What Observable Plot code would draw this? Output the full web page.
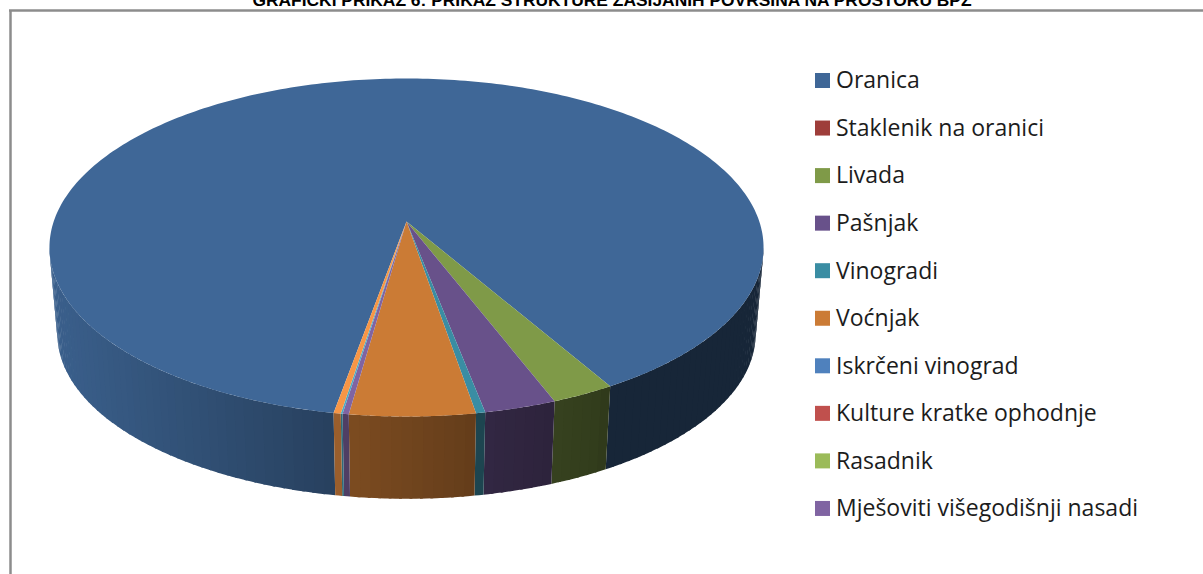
<!DOCTYPE html>
<html lang="hr">
<head>
<meta charset="utf-8">
<title>Grafički prikaz</title>
<script src="https://cdn.jsdelivr.net/npm/d3@7"></script>
<script src="https://cdn.jsdelivr.net/npm/@observablehq/plot@0.6"></script>
<style>
  html, body { margin: 0; padding: 0; background: #fff; overflow: hidden; }
  svg { display: block; }
</style>
</head>
<body>
<div id="chart"></div>
<script>
// Data. The last two slices have no legend row in the reference.
const categories = ["Oranica", "Staklenik na oranici", "Livada", "Pašnjak", "Vinogradi", "Voćnjak",
  "Iskrčeni vinograd", "Kulture kratke ophodnje", "Rasadnik", "Mješoviti višegodišnji nasadi", "Ostalo 1", "Ostalo 2"];
const shares = [88.86, 0, 2.49, 2.82, 0.36, 4.89, 0, 0, 0, 0.24, 0.07, 0.28];
const colors = ["#3f6797", "#9e3d3a", "#7f9a48", "#68518a", "#3a8da3", "#cb7b35",
  "#4f81bd", "#c0504d", "#9bbb59", "#8064a2", "#4bacc6", "#f79646"];
const legendCount = 10;
const titleText = "GRAFIČKI PRIKAZ 6: PRIKAZ STRUKTURE ZASIJANIH POVRŠINA NA PROSTORU BPŽ";

// Projection of the tilted disc
const W = 1203, H = 574, firstAngle = 100.1, k = 0.1538;
const topFace = {cx: 406, cy: 221, R: 352.8, b: 165};
const baseFace = {cx: 406, cy: 308, R: 345, b: 161};
const rad = Math.PI / 180;
const project = (f, deg) => {
  const s = Math.sin(deg * rad), c = Math.cos(deg * rad), q = 1 - k * s;
  return {x: f.cx + f.R * c / q, y: f.cy + f.b * s / q};
};
const total = d3.sum(shares);
let run = firstAngle;
const slices = categories.map((name, i) => {
  const a0 = run, a1 = run + shares[i] / total * 360;
  run = a1;
  return {name, a0, a1, color: colors[i], i};
}).filter(d => d.a1 > d.a0);

// Lighting of the outer wall, by horizontal position
const shade = d3.scaleLinear([55, 330, 470, 600, 610], [0.92, 0.63, 0.5, 0.39, 0.37]).clamp(true);
const wallColor = (c, x) => {
  const o = d3.rgb(c), f = shade(x);
  return d3.rgb(o.r * f, o.g * f, o.b * f).formatHex();
};

// Top wedges
const topRows = [];
for (const s of slices) {
  const z = "top" + s.i;
  topRows.push({x: topFace.cx, y: topFace.cy, z, fill: s.color});
  const n = Math.max(2, Math.ceil(s.a1 - s.a0));
  for (let j = 0; j <= n; ++j) {
    topRows.push({...project(topFace, s.a0 + (s.a1 - s.a0) * j / n), z, fill: s.color});
  }
}

// Outer wall, in narrow bands clipped to the visible front; each band runs under the next one
const wallFrom = Math.asin(k) / rad, wallTo = 180 - wallFrom;
const wallRows = [];
for (const s of slices) {
  for (const off of [0, 360]) {
    const a0 = Math.max(s.a0 - off, wallFrom), a1 = Math.min(s.a1 - off, wallTo);
    if (a1 <= a0) continue;
    const n = Math.max(1, Math.ceil((a1 - a0) / 1.5));
    for (let j = 0; j < n; ++j) {
      const t0 = a0 + (a1 - a0) * j / n, t1 = a0 + (a1 - a0) * (j + 1) / n;
      const tEnd = j < n - 1 ? Math.min(t1 + 0.4, a1) : t1;
      const steps = [t0, (t0 + tEnd) / 2, tEnd];
      const pts = [...steps.map(t => project(topFace, t)), ...steps.reverse().map(t => project(baseFace, t))];
      const fill = wallColor(s.color, (project(topFace, t0).x + project(topFace, t1).x) / 2);
      const z = `w${s.i}-${off}-${j}`;
      pts.forEach(p => wallRows.push({...p, z, fill}));
    }
  }
}

// Legend
const legendRows = categories.slice(0, legendCount).map((name, i) => ({
  name, color: colors[i], yc: 80.5 + i * 47.55
}));

const fontBody = "'Open Sans', Lato, sans-serif";
const chart = Plot.plot({
  width: W, height: H, margin: 0,
  x: {axis: null, domain: [0, W], range: [0, W]},
  y: {axis: null, domain: [0, H], range: [0, H]},
  color: {type: "identity"},
  marks: [
    Plot.ruleX([10], {y1: 10, y2: H, stroke: "#8c8c8c", strokeWidth: 2.5}),
    Plot.ruleY([10], {x1: 9, x2: W, stroke: "#8c8c8c", strokeWidth: 2.5}),
    Plot.text([titleText], {x: 611.5, y: 5.5, text: d => d, lineAnchor: "bottom", textAnchor: "middle",
      fontSize: 17.4, fontWeight: 700, fontFamily: "'Liberation Sans', Arial, sans-serif", fill: "#000"}),
    Plot.line(wallRows, {x: "x", y: "y", z: "z", fill: "fill", stroke: "none", curve: "linear-closed"}),
    Plot.line(topRows, {x: "x", y: "y", z: "z", fill: "fill", stroke: "none", curve: "linear-closed"}),
    Plot.rect(legendRows, {
      x1: () => 815, x2: () => 830,
      y1: d => d.yc - 7.5, y2: d => d.yc + 7.5,
      fill: "color"
    }),
    Plot.text(legendRows, {x: () => 835.5, y: "yc", text: "name", textAnchor: "start", lineAnchor: "middle",
      fontSize: 23, fontFamily: fontBody, fill: "#1c1c1c"})
  ]
});
document.getElementById("chart").append(chart);
</script>
</body>
</html>
